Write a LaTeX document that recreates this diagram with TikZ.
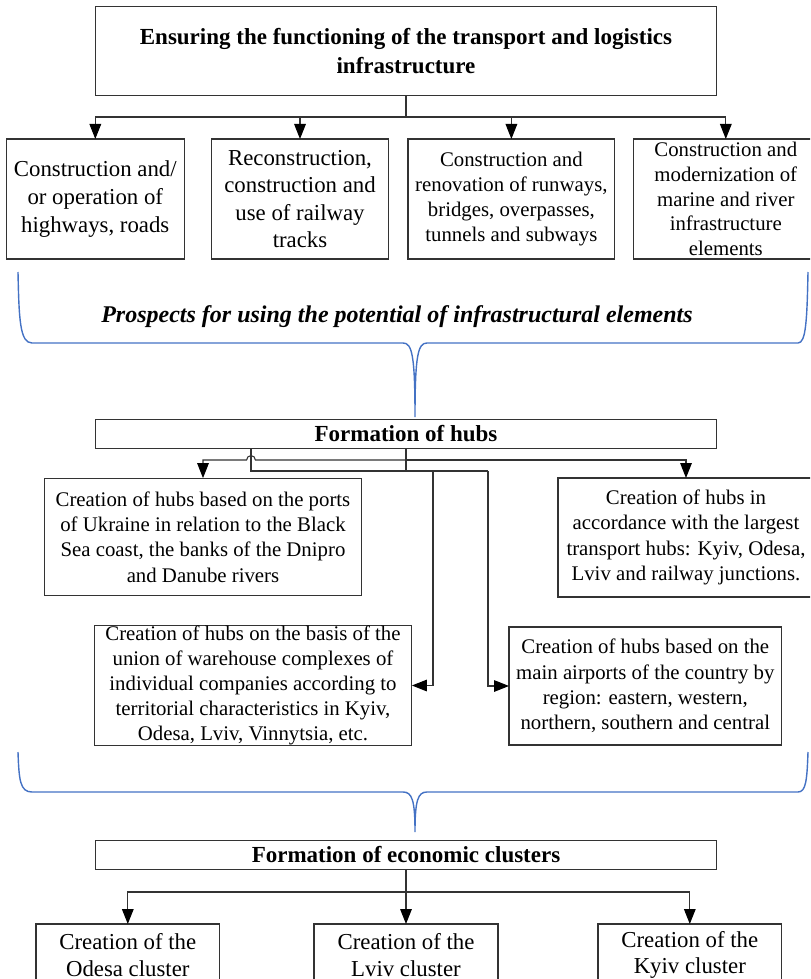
\documentclass[tikz,border=0pt]{standalone}
\usepackage{fontspec}
\setmainfont{Liberation Serif}
\usetikzlibrary{arrows.meta}
\definecolor{braceblue}{RGB}{68,114,196}

\begin{document}
\begin{tikzpicture}[
        x=0.5pt, y=-0.5pt,
        box/.style={draw=black!80, line width=0.55pt, inner sep=0pt, outer sep=0pt, align=center},
        big/.style={font=\fontsize{11.4}{13.8}\selectfont},
        small/.style={font=\fontsize{10.4}{12.6}\selectfont},
        head/.style={font=\bfseries\fontsize{11.5}{14.2}\selectfont},
        link/.style={draw=black!80, line width=0.55pt},
        arr/.style={draw=black!80, line width=0.55pt, -{Triangle[length=7.5pt, width=5.8pt, color=black]}},
        curly/.style={draw=braceblue, line width=0.7pt}
    ]
        \useasboundingbox (0,0) rectangle (810,979);
        \clip (0,0) rectangle (810,979);

        \coordinate (tj) at (406,117);
        \coordinate (hm) at (406,460);
        \coordinate (hj) at (406,471);
        \coordinate (hk) at (251,471);
        \coordinate (hl) at (433,471);
        \coordinate (hr) at (488,471);
        \coordinate (cj) at (406,892);

        \node[box, head, minimum width=310.5pt, minimum height=44.5pt] (top) at (406,51.2)
            {Ensuring the functioning of the transport and logistics\\infrastructure};

        \node[box, big, minimum width=89pt, minimum height=60pt] (road) at (95.3,199)
            {Construction and/\\or operation of\\highways, roads};
        \node[box, big, minimum width=88.6pt, minimum height=60pt] (rail) at (300,199)
            {Reconstruction,\\construction and\\use of railway\\tracks};
        \node[box, small, minimum width=103.4pt, minimum height=60pt] (runway) at (511.4,199)
            {Construction and\\renovation of runways,\\bridges, overpasses,\\tunnels and subways};
        \node[box, font=\fontsize{10.4}{12.3}\selectfont, minimum width=92.4pt, minimum height=60pt] (marine) at (725.8,199)
            {Construction and\\modernization of\\marine and river\\infrastructure\\elements};

        \draw[link] (top.south) -- (tj);
        \draw[arr] (tj) -| (road.north);
        \draw[arr] (tj) -| (rail.north);
        \draw[arr] (tj) -| (runway.north);
        \draw[arr] (tj) -| (marine.north);

        \node[font=\bfseries\itshape\fontsize{12}{14}\selectfont] (prospects) at (397,316.7)
            {Prospects for using the potential of infrastructural elements};

        \draw[curly] (18,272) .. controls (19,320) and (20,343) .. (32,343) -- (403,343)
            .. controls (412,343) and (415,355) .. (415,417)
            .. controls (415,355) and (418,343) .. (427,343) -- (798,343)
            .. controls (806,343) and (807,320) .. (808,272);

        \node[box, head, minimum width=310.5pt, minimum height=14.6pt] (hubs) at (406,434)
            {Formation of hubs};

        \node[box, small, minimum width=158.6pt, minimum height=58.9pt] (ports) at (203,537)
            {Creation of hubs based on the ports\\of Ukraine in relation to the Black\\Sea coast, the banks of the Dnipro\\and Danube rivers};
        \node[box, small, minimum width=128pt, minimum height=59.5pt] (junctions) at (686,537.5)
            {Creation of hubs in\\accordance with the largest\\transport hubs: Kyiv, Odesa,\\Lviv and railway junctions.};
        \node[box, font=\fontsize{10.4}{12.5}\selectfont, minimum width=158.9pt, minimum height=58.5pt] (warehouse) at (253,685.5)
            {Creation of hubs on the basis of the\\union of warehouse complexes of\\individual companies according to\\territorial characteristics in Kyiv,\\Odesa, Lviv, Vinnytsia, etc.};
        \node[box, small, minimum width=136.3pt, minimum height=59pt] (airports) at (645.3,686)
            {Creation of hubs based on the\\main airports of the country by\\region: eastern, western,\\northern, southern and central};

        \draw[link] (hubs.south) -- (hj);
        \draw[link] (hubs.south -| hk) -- (hk) -- (hr);
        \draw[arr] (hm) -- ([xshift=2.2pt]hk |- hm) arc[start angle=0, end angle=180, radius=2.2pt] -| (ports.north);
        \draw[arr] (hm) -| (junctions.north);
        \draw[arr] (hl) |- (warehouse.east);
        \draw[arr] (hr) |- (airports.west);

        \draw[curly] (18,752) .. controls (19,780) and (20,792) .. (32,792) -- (403,792)
            .. controls (412,792) and (415,800) .. (415,832)
            .. controls (415,800) and (418,792) .. (427,792) -- (798,792)
            .. controls (806,792) and (807,780) .. (808,752);

        \node[box, head, minimum width=310.5pt, minimum height=14.65pt] (clusters) at (406,854.7)
            {Formation of economic clusters};

        \node[box, font=\fontsize{11.4}{13.2}\selectfont, minimum width=91.8pt, minimum height=31pt] (odesa) at (127.8,955)
            {Creation of the\\Odesa cluster};
        \node[box, font=\fontsize{11.4}{13.2}\selectfont, minimum width=92pt, minimum height=31pt] (lviv) at (406,955)
            {Creation of the\\Lviv cluster};
        \node[box, font=\fontsize{11.4}{13.2}\selectfont, minimum width=91.8pt, minimum height=31pt] (kyiv) at (689.8,955)
            {Creation of the\\Kyiv cluster};

        \draw[link] (clusters.south) -- (cj);
        \draw[arr] (cj) -| (odesa.north);
        \draw[arr] (cj) -- (lviv.north);
        \draw[arr] (cj) -| (kyiv.north);
    \end{tikzpicture}
\end{document}
